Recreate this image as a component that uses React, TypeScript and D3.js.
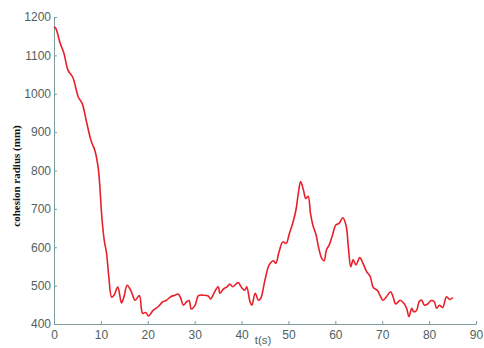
import React, { useEffect, useRef } from "react";
import * as d3 from "d3";

// Dimensions
const W = 484;
const H = 348;
const margin = { top: 17, right: 8, bottom: 24, left: 54 };

// Data
const times = [
  0, 0.4, 1.3, 2.1, 3.0, 4.0, 5.2, 6.0, 7.0, 8.0, 8.7, 9.45, 10.2, 10.7, 11.2,
  11.7, 12.3, 12.8, 13.6, 14.4, 14.9, 15.6, 16.5, 17.3, 18.2, 18.9, 19.6, 20.1,
  21.2, 22.2, 23.2, 24.0, 24.9, 25.8, 26.5, 27.0, 27.6, 28.3, 28.8, 29.3, 30.1,
  30.8, 31.8, 32.9, 33.4, 34.1, 35.0, 35.4, 36.1, 36.9, 37.5, 38.1, 38.8, 39.3,
  40.0, 40.7, 41.1, 41.8, 42.2, 42.9, 43.6, 44.1, 45.0, 45.9, 46.8, 47.3, 48.0,
  48.8, 49.5, 50.2, 50.9, 51.6, 52.1, 52.6, 53.2, 53.7, 54.2, 54.7, 55.2, 55.9,
  56.4, 57.1, 57.6, 58.1, 58.7, 59.4, 60.1, 60.8, 61.6, 62.3, 62.8, 63.3, 63.8,
  64.4, 65.2, 65.9, 66.7, 67.4, 68.1, 69.0, 69.5, 70.2, 70.9, 71.8, 72.3, 72.9,
  73.8, 74.6, 75.2, 75.7, 76.3, 76.7, 77.3, 77.9, 78.4, 79.0, 79.7, 80.4, 81.1,
  81.6, 82.2, 82.9, 83.7, 84.4, 85.1,
];
const radius = [
  1175, 1170, 1132, 1106, 1061, 1043, 991, 975, 923, 874, 853, 805, 679, 619, 585,
  522, 470, 475, 496, 455, 470, 501, 484, 462, 474, 428, 430, 421,
  436, 445, 458, 462, 471, 475, 478, 468, 449, 458, 461, 439, 449,
  474, 475, 473, 465, 480, 497, 480, 491, 497, 504, 497, 504, 508,
  495, 488, 497, 458, 449, 480, 462, 467, 515, 554, 565, 558, 588,
  614, 610, 636, 662, 697, 740, 771, 749, 727, 733, 688, 658, 632,
  601, 571, 565, 593, 606, 632, 658, 662, 677, 656, 597, 549, 567,
  554, 573, 558, 536, 525, 495, 487, 475, 462, 471, 484, 471, 452,
  462, 454, 441, 419, 441, 432, 435, 459, 462, 449, 452, 461, 458,
  441, 449, 443, 471, 464, 469,
];
const xTicks = [0, 10, 20, 30, 40, 50, 60, 70, 80, 90];
const yTicks = [400, 500, 600, 700, 800, 900, 1000, 1100, 1200];

const axisColour = "#7d9c9c";
const textColour = "#4f5f5f";

export default function App() {
  const ref = useRef<SVGSVGElement>(null);

  useEffect(() => {
    if (!ref.current) return;
    const svg = d3.select(ref.current);
    svg.selectAll("*").remove();

    const x = d3.scaleLinear().domain([0, 90]).range([margin.left, 476]);
    const y = d3.scaleLinear().domain([400, 1200]).range([H - margin.bottom, margin.top]);

    // X axis
    const gx = svg
      .append("g")
      .attr("transform", `translate(0, ${H - margin.bottom})`)
      .call(
        d3.axisBottom(x).tickValues(xTicks).tickFormat(d3.format("d"))
          .tickSize(-3).tickPadding(6).tickSizeOuter(0)
      );
    // Y axis
    const gy = svg
      .append("g")
      .attr("transform", `translate(${margin.left}, 0)`)
      .call(
        d3.axisLeft(y).tickValues(yTicks).tickFormat(d3.format("d"))
          .tickSize(-3).tickPadding(3).tickSizeOuter(0)
      );

    [gx, gy].forEach((g) => {
      g.select(".domain").attr("stroke", axisColour);
      g.selectAll(".tick line").attr("stroke", axisColour);
      g.selectAll(".tick text")
        .attr("fill", textColour)
        .style("font-family", "Liberation Sans, Arial, sans-serif")
        .style("font-size", "12px");
    });

    // Line
    const pts = times.map((t, i) => [t, radius[i]] as [number, number]);
    const line = d3
      .line<[number, number]>()
      .x((d) => x(d[0]))
      .y((d) => y(d[1]))
      .curve(d3.curveCatmullRom);
    svg
      .append("path")
      .attr("d", line(pts))
      .attr("fill", "none")
      .attr("stroke", "#e8202a")
      .attr("stroke-width", 1.6);

    // Axis labels
    svg
      .append("text")
      .attr("x", 263)
      .attr("y", 344)
      .attr("text-anchor", "middle")
      .attr("fill", textColour)
      .style("font-family", "Liberation Sans, Arial, sans-serif")
      .style("font-size", "11.5px")
      .text("t(s)");

    svg
      .append("text")
      .attr("transform", `translate(20, 176) rotate(-90)`)
      .attr("text-anchor", "middle")
      .attr("fill", "#111")
      .style("font-family", "Liberation Serif, Times New Roman, serif")
      .style("font-weight", "bold")
      .style("font-size", "11px")
      .text("cohesion radius (mm)");
  }, []);

  return (
    <svg
      ref={ref}
      width={W}
      height={H}
      style={{ position: "absolute", left: 0, top: 0, background: "#fff" }}
    />
  );
}
